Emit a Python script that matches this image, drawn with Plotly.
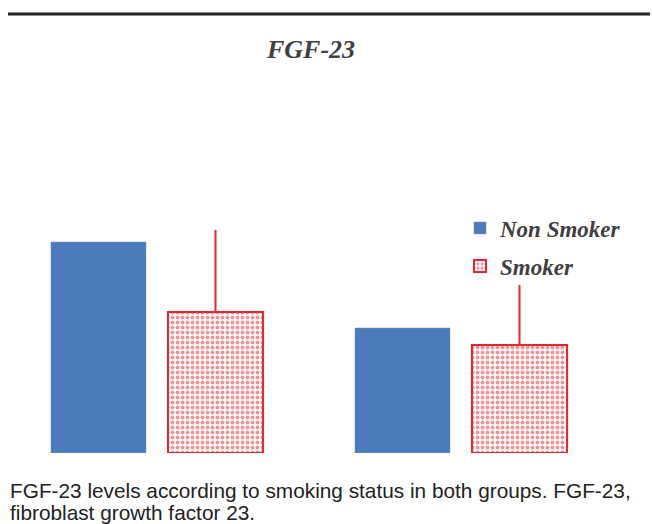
import plotly.graph_objects as go

groups = ["Group 1", "Group 2"]
non_smoker = [211, 125]
smoker = [141, 108]
smoker_err = [82, 60]

W, H = 652, 524
L, R, T, B = 5, 39, 100, 71
plot_h = H - T - B

def px_x(x):
    return (x - L) / (W - L - R)

def px_y(y):
    return (H - B - y) / plot_h

fig = go.Figure()
fig.add_trace(go.Bar(
    x=groups, y=non_smoker, name="<b><i>Non Smoker</i></b>",
    marker=dict(color="#4a7bbd", line=dict(color="#8796aa", width=0.5)),
    legend="legend", showlegend=True,
))
fig.add_trace(go.Bar(
    x=groups, y=smoker, name="<b><i>Smoker</i></b>",
    marker=dict(color="white", line=dict(color="#e8262b", width=2),
                pattern=dict(shape=".", fgcolor="#e8262b", bgcolor="white", size=5, solidity=0.45)),
    error_y=dict(type="data", array=smoker_err, arrayminus=[0, 0], symmetric=False,
                 color="#e8262b", thickness=2, width=0),
    legend="legend2", showlegend=True,
))

legend_font = dict(family="Liberation Serif", size=23, color="#404040")
fig.update_layout(
    width=W, height=H,
    margin=dict(l=L, r=R, t=T, b=B),
    paper_bgcolor="white", plot_bgcolor="white",
    barmode="group", bargap=0.23, bargroupgap=0.188,
    title=dict(text="<b><i>FGF-23</i></b>", x=311 / W, xanchor="center", xref="container",
               y=1 - 49 / H, yanchor="middle", yref="container",
               font=dict(family="Liberation Serif", size=26, color="#404040")),
    xaxis=dict(range=[-0.5, 1.5], showticklabels=False, showgrid=False, zeroline=False, showline=False, ticks=""),
    yaxis=dict(range=[0, plot_h], showticklabels=False, showgrid=False, zeroline=False, showline=False, ticks=""),
    legend=dict(x=px_x(460), y=px_y(228), xanchor="left", yanchor="middle", font=legend_font,
                bgcolor="rgba(0,0,0,0)", itemwidth=30),
    legend2=dict(x=px_x(460), y=px_y(266), xanchor="left", yanchor="middle", font=legend_font,
                 bgcolor="rgba(0,0,0,0)", itemwidth=30),
    shapes=[dict(type="line", xref="paper", yref="paper", x0=px_x(8), x1=px_x(650),
                 y0=px_y(14), y1=px_y(14), line=dict(color="#222222", width=3))],
    annotations=[
        dict(text="FGF-23 levels according to smoking status in both groups. FGF-23,",
             xref="paper", yref="paper", x=px_x(8), y=px_y(491), xanchor="left", yanchor="middle",
             showarrow=False, font=dict(family="Liberation Sans", size=20.8, color="#222222")),
        dict(text="fibroblast growth factor 23.",
             xref="paper", yref="paper", x=px_x(8), y=px_y(512), xanchor="left", yanchor="middle",
             showarrow=False, font=dict(family="Liberation Sans", size=20.8, color="#222222")),
    ],
)
fig.write_html("out.html", config={"displayModeBar": False},
               post_script="document.body.style.margin='0';document.body.style.overflow='hidden';")
